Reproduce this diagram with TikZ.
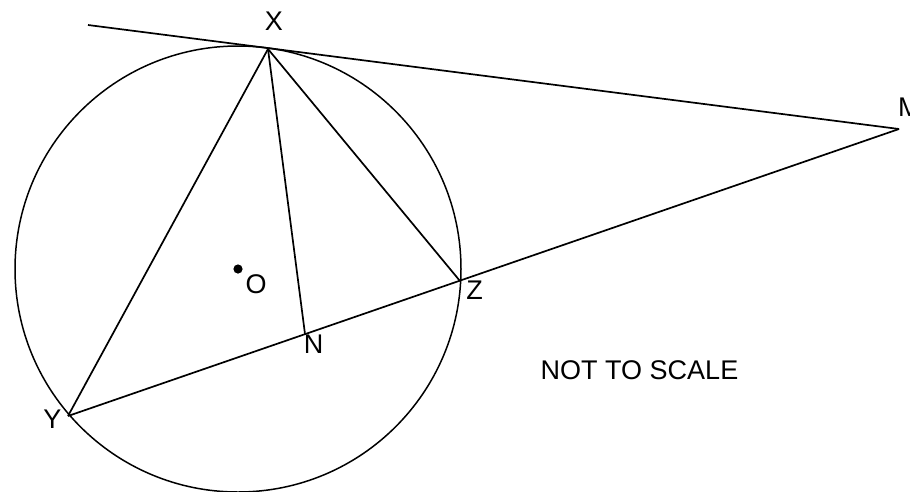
\documentclass[tikz,border=0pt]{standalone}
\usepackage{fontspec}
\setmainfont{Liberation Sans}
\usepackage{tikz}
\usetikzlibrary{calc}
\definecolor{gInk}{HTML}{000000}

\begin{document}
\begin{tikzpicture}[
  x=1pt, y=-1pt, font=\fontsize{27}{32}\selectfont,
  ln/.style={draw=gInk, line width=1.7pt},
  lbl/.style={inner sep=0pt, text=gInk, anchor=center},
]
\useasboundingbox (0,0) rectangle (910,491);

% ---------------------------------------------------------------- punkte
\coordinate (O) at (238,269);
\coordinate (X) at (268,49);
\coordinate (Y) at (68,416);
\coordinate (Z) at (460,281);
\coordinate (N) at (305,334);
\coordinate (M) at (899,129);
\coordinate (T) at (88,25);

% ---------------------------------------------------------------- kreis
\draw[ln, line width=1.5pt] (O) circle[radius=223];
\fill[gInk] (O) circle[radius=4.6];

% ---------------------------------------------------------------- linien
\draw[ln] (T) -- (M);
\draw[ln] (Y) -- (M);
\draw[ln] (X) -- (Y);
\draw[ln] (X) -- (Z);
\draw[ln] (X) -- (N);

% ---------------------------------------------------------------- labels
\node[lbl] at (274,21)    (lX) {X};
\node[lbl] at (52.5,419)  (lY) {Y};
\node[lbl] at (474.5,290) (lZ) {Z};
\node[lbl] at (313.5,344) (lN) {N};
\node[lbl] at (256,284)   (lO) {O};
\node[lbl, anchor=west] at (898,107) (lM) {M};
\node[lbl] at (639.5,370) (note) {NOT TO SCALE};

\end{tikzpicture}
\end{document}
